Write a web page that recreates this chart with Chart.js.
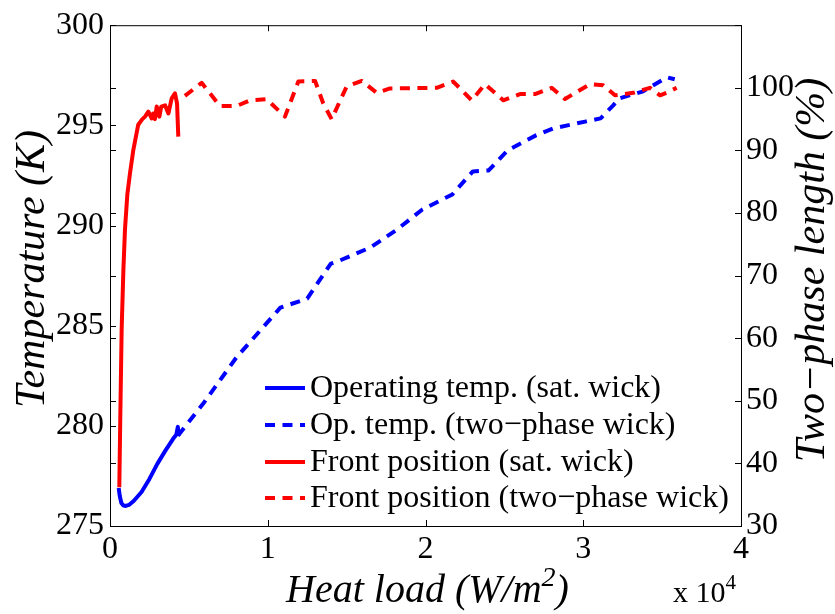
<!DOCTYPE html>
<html>
<head>
<meta charset="utf-8">
<script src="https://cdn.jsdelivr.net/npm/chart.js@4.4.1/dist/chart.umd.min.js"></script>
<style>
	html, body { margin: 0; padding: 0; background: #fff; }
	canvas { display: block; }
</style>
</head>
<body>
<canvas id="chart" width="835" height="614"></canvas>
<script>
// axis ticks
const heatLoadTicks = [0, 1, 2, 3, 4]
const tempTicks = [275, 280, 285, 290, 295, 300]
const lengthTicks = [30, 40, 50, 60, 70, 80, 90, 100, 110]

// operating temperature, saturated wick (K) vs heat load (x 10^4 W/m2)
const satTempLoad = [0.055, 0.062, 0.072, 0.085, 0.1, 0.12, 0.15, 0.2, 0.25, 0.3, 0.35, 0.4, 0.42, 0.43, 0.435]
const satTemp = [276.9, 276.5, 276.15, 276.02, 276.0, 276.05, 276.25, 276.7, 277.35, 278.1, 278.75, 279.35, 279.55, 279.95, 279.5]

// operating temperature, two-phase wick (K)
const twoTempLoad = [0.43, 0.59, 0.8, 1.08, 1.25, 1.4, 1.44, 1.65, 1.82, 1.98, 2.17, 2.3, 2.4, 2.52, 2.7, 2.81, 3.02, 3.11, 3.19, 3.23, 3.38, 3.53, 3.58]
const twoTemp = [279.5, 281.1, 283.4, 285.9, 286.35, 288.1, 288.2, 288.9, 289.8, 290.8, 291.55, 292.7, 292.75, 293.75, 294.5, 294.85, 295.2, 295.35, 296.0, 296.35, 296.7, 297.4, 297.3]

// front position, saturated wick (% two-phase length)
const satFrontLoad = [0.059, 0.065, 0.074, 0.085, 0.095, 0.11, 0.127, 0.148, 0.179, 0.205, 0.222, 0.243, 0.264, 0.273, 0.285, 0.296, 0.313, 0.325, 0.349, 0.37, 0.391, 0.412, 0.425, 0.433]
const satFront = [36.2, 47.0, 61.6, 71.0, 77.4, 83.0, 86.4, 90.1, 94.1, 95.0, 95.4, 96.2, 95.1, 95.9, 95.0, 97.0, 95.4, 97.0, 97.2, 95.9, 98.3, 99.1, 97.5, 92.2]

// front position, two-phase wick (%)
const twoFrontLoad = [0.475, 0.581, 0.697, 0.803, 0.887, 0.993, 1.109, 1.194, 1.3, 1.352, 1.405, 1.5, 1.596, 1.691, 1.775, 2.071, 2.176, 2.293, 2.377, 2.493, 2.599, 2.694, 2.8, 2.884, 3.043, 3.127, 3.201, 3.317, 3.423, 3.487, 3.529, 3.592]
const twoFront = [98.7, 100.8, 97.1, 97.1, 98.0, 98.2, 95.4, 101.0, 101.1, 97.5, 95.0, 100.2, 101.1, 99.2, 99.9, 100.0, 101.0, 98.0, 100.6, 98.0, 99.0, 99.0, 100.0, 98.2, 100.6, 100.4, 98.8, 99.2, 100.0, 98.8, 99.2, 100.0]

const FONT = '"Liberation Serif", "Times New Roman", serif'
const BLUE = '#0000ff'
const RED = '#ff0000'
const DASH = [10, 7.5]
const LINE_W = 4

function pairs(xs, ys) {
	return xs.map((x, i) => ({ x, y: ys[i] }))
}

function fixedTicks(values) {
	return (scale) => { scale.ticks = values.map((value) => ({ value })) }
}

const tickFont = { family: FONT, size: 32 }

/**
 * draws a run of text parts, some raised as superscripts
 */
function drawParts(ctx, parts, x, y, align) {
	let total = 0
	parts.forEach((p) => {
		ctx.font = p.font
		total += ctx.measureText(p.text).width
	})
	let cx = align === 'center' ? x - total / 2 : x
	parts.forEach((p) => {
		ctx.font = p.font
		ctx.fillText(p.text, cx, y - (p.rise || 0))
		cx += ctx.measureText(p.text).width
	})
}

const boxPlugin = {
	id: 'box',
	afterDatasetsDraw(chart) {
		const { ctx, chartArea: a, scales } = chart
		const tick = 6
		ctx.save()
		ctx.strokeStyle = '#000'
		ctx.lineWidth = 1
		ctx.strokeRect(a.left + 0.5, a.top + 0.5, a.right - a.left, a.bottom - a.top)

		ctx.beginPath()
		heatLoadTicks.forEach((v) => {
			const px = Math.round(scales.x.getPixelForValue(v)) + 0.5
			ctx.moveTo(px, a.bottom); ctx.lineTo(px, a.bottom - tick)
			ctx.moveTo(px, a.top); ctx.lineTo(px, a.top + tick)
		})
		tempTicks.forEach((v) => {
			const py = Math.round(scales.y.getPixelForValue(v)) + 0.5
			ctx.moveTo(a.left, py); ctx.lineTo(a.left + tick, py)
		})
		lengthTicks.forEach((v) => {
			const py = Math.round(scales.y1.getPixelForValue(v)) + 0.5
			ctx.moveTo(a.right, py); ctx.lineTo(a.right - tick, py)
			ctx.moveTo(a.left, py); ctx.lineTo(a.left + tick, py)
		})
		ctx.stroke()

		// legend, inside the plot, no frame
		const rows = [388, 425, 462, 498]
		ctx.font = `32px ${FONT}`
		ctx.textBaseline = 'middle'
		ctx.textAlign = 'left'
		ctx.fillStyle = '#000'
		chart.data.datasets.forEach((ds, i) => {
			const y = rows[i]
			ctx.beginPath()
			ctx.lineWidth = ds.borderWidth
			ctx.strokeStyle = ds.borderColor
			ctx.setLineDash(ds.borderDash || [])
			ctx.moveTo(265, y); ctx.lineTo(305, y)
			ctx.stroke()
			ctx.setLineDash([])
			ctx.fillText(ds.label, 310, y + 1)
		})
		ctx.restore()
	},
	afterDraw(chart) {
		const { ctx, chartArea: a } = chart
		ctx.save()
		ctx.fillStyle = '#000'
		ctx.textBaseline = 'alphabetic'
		ctx.textAlign = 'left'
		const italic = `italic 40px ${FONT}`
		const sup = `italic 28px ${FONT}`

		// x axis title
		drawParts(ctx, [
			{ text: 'Heat load (W/m', font: italic },
			{ text: '2', font: sup, rise: 16 },
			{ text: ')', font: italic }
		], (a.left + a.right) / 2 + 2, 602, 'center')

		// exponent of the x axis
		drawParts(ctx, [
			{ text: 'x 10', font: `30px ${FONT}` },
			{ text: '4', font: `21px ${FONT}`, rise: 13 }
		], 673, 602, 'left')

		// y titles, both read bottom to top
		ctx.textAlign = 'center'
		ctx.textBaseline = 'middle'
		ctx.font = `italic 42px ${FONT}`
		ctx.translate(33, 269)
		ctx.rotate(-Math.PI / 2)
		ctx.fillText('Temperature (K)', 0, 0)
		ctx.setTransform(1, 0, 0, 1, 0, 0)
		ctx.translate(813, 270)
		ctx.rotate(-Math.PI / 2)
		ctx.fillText('Two\u2212phase length (%)', 0, 0)
		ctx.restore()
	}
}

new Chart(document.getElementById('chart'), {
	type: 'line',
	data: {
		datasets: [
			{ label: 'Operating temp. (sat. wick)', data: pairs(satTempLoad, satTemp), yAxisID: 'y', borderColor: BLUE, borderWidth: LINE_W, order: 2 },
			{ label: 'Op. temp. (two\u2212phase wick)', data: pairs(twoTempLoad, twoTemp), yAxisID: 'y', borderColor: BLUE, borderWidth: LINE_W, borderDash: DASH, order: 2 },
			{ label: 'Front position (sat. wick)', data: pairs(satFrontLoad, satFront), yAxisID: 'y1', borderColor: RED, borderWidth: LINE_W, order: 1 },
			{ label: 'Front position (two\u2212phase wick)', data: pairs(twoFrontLoad, twoFront), yAxisID: 'y1', borderColor: RED, borderWidth: LINE_W, borderDash: DASH, order: 1 }
		]
	},
	options: {
		responsive: false,
		animation: false,
		devicePixelRatio: 1,
		layout: { padding: { top: 21, left: 0, right: 0, bottom: 0 } },
		elements: {
			point: { radius: 0 },
			line: { tension: 0, fill: false, borderCapStyle: 'butt', borderJoinStyle: 'round' }
		},
		plugins: {
			legend: { display: false },
			tooltip: { enabled: false }
		},
		scales: {
			x: {
				type: 'linear',
				min: 0,
				max: 4,
				afterBuildTicks: fixedTicks(heatLoadTicks),
				afterFit: (s) => { s.height = 88 },
				grid: { display: false, drawTicks: false },
				border: { display: false },
				ticks: { font: tickFont, color: '#000', padding: 4, maxRotation: 0 }
			},
			y: {
				position: 'left',
				min: 275,
				max: 300,
				afterBuildTicks: fixedTicks(tempTicks),
				afterFit: (s) => { s.width = 110 },
				grid: { display: false, drawTicks: false },
				border: { display: false },
				ticks: { font: tickFont, color: '#000', padding: 6 }
			},
			y1: {
				position: 'right',
				min: 30,
				max: 110,
				afterBuildTicks: fixedTicks(lengthTicks),
				afterFit: (s) => { s.width = 94 },
				grid: { display: false, drawTicks: false },
				border: { display: false },
				ticks: {
					font: tickFont,
					color: '#000',
					padding: 5,
					callback: (v) => (v > 100 ? '' : v)
				}
			}
		}
	},
	plugins: [boxPlugin]
})
</script>
</body>
</html>
